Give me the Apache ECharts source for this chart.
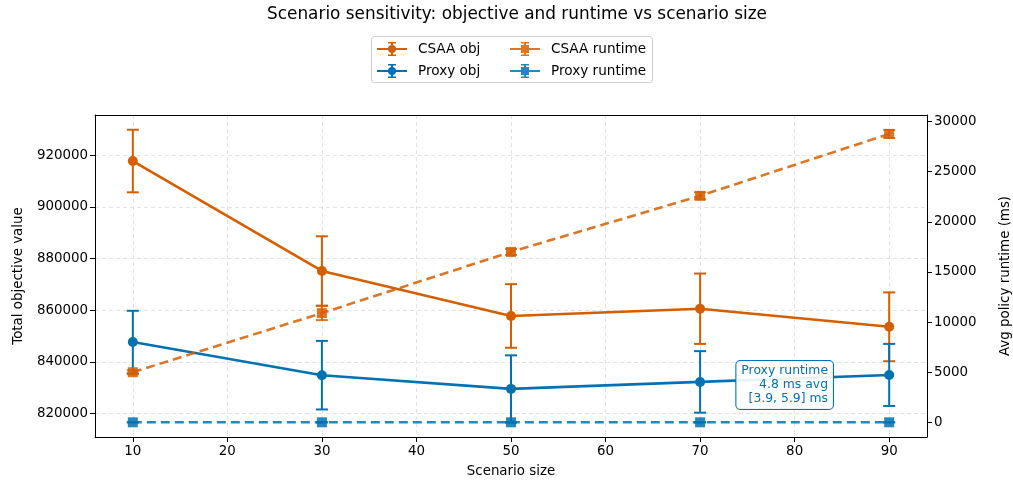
<!DOCTYPE html>
<html>
<head>
<meta charset="utf-8">
<script src="https://cdn.jsdelivr.net/npm/echarts@6/dist/echarts.min.js"></script>
<style>
  html, body { margin: 0; padding: 0; background: #fff; }
  #chart { width: 1013px; height: 483px; }
</style>
</head>
<body>
<div id="chart"></div>
<script>
// scenario sizes on the x axis
const sizes = [10, 30, 50, 70, 90];

// objective values (left axis) and their error half-widths
const csaaObj = [917700, 875200, 857800, 860600, 853600];
const csaaObjErr = [12100, 13400, 12300, 13600, 13300];
const proxyObj = [847700, 834900, 829600, 832300, 835000];
const proxyObjErr = [12100, 13250, 12970, 11900, 12000];

// runtimes in ms (right axis)
const csaaRuntime = [5000, 10900, 17000, 22600, 28770];
const csaaRuntimeErr = [200, 700, 300, 350, 400];
const proxyRuntime = [3.9, 4.5, 4.8, 5.0, 5.9];
const proxyRuntimeErr = [0.4, 0.4, 0.4, 0.4, 0.4];

const ORANGE = '#d55e00';
const BLUE = '#0072b2';
const FONT = 'DejaVu Sans';

const pairs = (xs, ys) => xs.map((x, i) => [x, ys[i]]);
const bars = (xs, ys, es) => xs.map((x, i) => [x, ys[i] - es[i], ys[i] + es[i]]);

// error bar drawn through the axis scales
const errorBars = (color, opacity) => (params, api) => {
  const x = api.value(0);
  const lo = api.coord([x, api.value(1)]);
  const hi = api.coord([x, api.value(2)]);
  const cap = 6;
  const style = { stroke: color, lineWidth: 2, opacity: opacity };
  return {
    type: 'group',
    children: [
      { type: 'line', shape: { x1: lo[0], y1: lo[1], x2: hi[0], y2: hi[1] }, style },
      { type: 'line', shape: { x1: lo[0] - cap, y1: lo[1], x2: lo[0] + cap, y2: lo[1] }, style },
      { type: 'line', shape: { x1: hi[0] - cap, y1: hi[1], x2: hi[0] + cap, y2: hi[1] }, style }
    ]
  };
};

// legend glyphs: line + errorbar + marker, all wound the same way
const barPath = 'M0 6 L30 6 L30 8 L0 8 Z M14 0 L16 0 L16 14 L14 14 Z M11 0 L19 0 L19 1.6 L11 1.6 Z M11 12.4 L19 12.4 L19 14 L11 14 Z ';
const circleIcon = 'path://' + barPath + 'M11 7 A4 4 0 1 1 19 7 A4 4 0 1 1 11 7 Z';
const squareIcon = 'path://' + barPath + 'M11 3 L19 3 L19 11 L11 11 Z';

const chart = echarts.init(document.getElementById('chart'));

const axisText = { color: '#000', fontSize: 13.4, fontFamily: FONT };
const gridLine = { show: true, lineStyle: { color: '#e3e3e3', type: [4, 3], width: 1 } };
const plain = v => String(v);

const legendBase = {
  orient: 'vertical',
  top: 37,
  itemWidth: 30,
  itemHeight: 14,
  itemGap: 8,
  textStyle: { color: '#000', fontSize: 13.6, fontFamily: FONT, padding: [0, 0, 0, 6] }
};

const option = {
  animation: false,
  backgroundColor: '#fff',
  textStyle: { fontFamily: FONT },
  title: {
    text: 'Scenario sensitivity: objective and runtime vs scenario size',
    left: 262,
    top: 1,
    textStyle: { color: '#000', fontSize: 16.9, fontWeight: 'normal', fontFamily: FONT }
  },
  legend: [
    Object.assign({}, legendBase, {
      left: 372,
      data: [
        { name: 'CSAA obj', icon: circleIcon },
        { name: 'Proxy obj', icon: circleIcon }
      ]
    }),
    Object.assign({}, legendBase, {
      left: 505,
      data: [
        { name: 'CSAA runtime', icon: squareIcon },
        { name: 'Proxy runtime', icon: squareIcon }
      ]
    })
  ],
  grid: {
    left: 95, right: 86, top: 115, bottom: 46,
    show: false,
    outerBoundsMode: 'none',
    containLabel: false
  },
  xAxis: [
    {
      type: 'value',
      min: 6, max: 94,
      splitNumber: 9,
      name: 'Scenario size',
      nameLocation: 'middle',
      nameGap: 28,
      nameTextStyle: axisText,
      axisLine: { show: true, onZero: false, lineStyle: { color: '#000', width: 1 } },
      axisTick: { show: true, length: 5, lineStyle: { color: '#000' } },
      axisLabel: Object.assign({ margin: 8, showMinLabel: false, showMaxLabel: false, formatter: plain }, axisText),
      splitLine: gridLine
    },
    {
      // top frame edge
      type: 'value',
      position: 'top',
      min: 6, max: 94,
      axisLine: { show: true, onZero: false, lineStyle: { color: '#000', width: 1 } },
      axisTick: { show: false },
      axisLabel: { show: false },
      splitLine: { show: false }
    }
  ],
  yAxis: [
    {
      type: 'value',
      min: 811000, max: 935500,
      splitNumber: 6,
      name: 'Total objective value',
      nameLocation: 'middle',
      nameRotate: 90,
      nameGap: 70,
      nameTextStyle: axisText,
      axisLine: { show: true, onZero: false, lineStyle: { color: '#000', width: 1 } },
      axisTick: { show: true, length: 5, lineStyle: { color: '#000' } },
      axisLabel: Object.assign({ margin: 7, showMinLabel: false, showMaxLabel: false, formatter: plain }, axisText),
      splitLine: gridLine
    },
    {
      type: 'value',
      position: 'right',
      min: -1460, max: 30660,
      splitNumber: 6,
      name: 'Avg policy runtime (ms)',
      nameLocation: 'middle',
      nameRotate: 90,
      nameGap: 72,
      nameTextStyle: axisText,
      axisLine: { show: true, onZero: false, lineStyle: { color: '#000', width: 1 } },
      axisTick: { show: true, length: 5, lineStyle: { color: '#000' } },
      axisLabel: Object.assign({ margin: 7, showMinLabel: false, showMaxLabel: false, formatter: plain }, axisText),
      splitLine: { show: false }
    }
  ],
  series: [
    {
      name: 'CSAA obj', type: 'line', yAxisIndex: 0, z: 3,
      data: pairs(sizes, csaaObj),
      symbol: 'circle', symbolSize: 10,
      itemStyle: { color: ORANGE },
      lineStyle: { color: ORANGE, width: 2.6 }
    },
    {
      name: 'CSAA obj err', type: 'custom', yAxisIndex: 0, z: 3,
      data: bars(sizes, csaaObj, csaaObjErr),
      renderItem: errorBars(ORANGE, 1)
    },
    {
      name: 'Proxy obj', type: 'line', yAxisIndex: 0, z: 3,
      data: pairs(sizes, proxyObj),
      symbol: 'circle', symbolSize: 10,
      itemStyle: { color: BLUE },
      lineStyle: { color: BLUE, width: 2.6 }
    },
    {
      name: 'Proxy obj err', type: 'custom', yAxisIndex: 0, z: 3,
      data: bars(sizes, proxyObj, proxyObjErr),
      renderItem: errorBars(BLUE, 1)
    },
    {
      name: 'CSAA runtime', type: 'line', yAxisIndex: 1, z: 4,
      data: pairs(sizes, csaaRuntime),
      symbol: 'rect', symbolSize: 10,
      itemStyle: { color: ORANGE, opacity: 0.85 },
      lineStyle: { color: ORANGE, width: 2.6, type: [9, 5], opacity: 0.85 }
    },
    {
      name: 'CSAA runtime err', type: 'custom', yAxisIndex: 1, z: 4,
      data: bars(sizes, csaaRuntime, csaaRuntimeErr),
      renderItem: errorBars(ORANGE, 0.85)
    },
    {
      name: 'Proxy runtime', type: 'line', yAxisIndex: 1, z: 4,
      data: pairs(sizes, proxyRuntime),
      symbol: 'rect', symbolSize: 10,
      itemStyle: { color: BLUE, opacity: 0.85 },
      lineStyle: { color: BLUE, width: 2.6, type: [9, 5], opacity: 0.85 }
    },
    {
      name: 'Proxy runtime err', type: 'custom', yAxisIndex: 1, z: 4,
      data: bars(sizes, proxyRuntime, proxyRuntimeErr),
      renderItem: errorBars(BLUE, 0.85)
    }
  ],
  graphic: [
    {
      type: 'rect', left: 371, top: 36, z: 0,
      shape: { width: 281, height: 46, r: 3 },
      style: { fill: '#fff', stroke: '#cccccc', lineWidth: 1 }
    },
    {
      type: 'text', z: 10,
      x: 833, y: 361,
      style: {
        text: 'Proxy runtime\n4.8 ms avg\n[3.9, 5.9] ms',
        fill: BLUE,
        font: '12.4px "DejaVu Sans"',
        align: 'right',
        lineHeight: 14,
        backgroundColor: 'rgba(255,255,255,0.9)',
        borderColor: BLUE,
        borderWidth: 1,
        borderRadius: 4,
        padding: [3, 5, 3, 5]
      }
    }
  ]
};

chart.setOption(option);
</script>
</body>
</html>
